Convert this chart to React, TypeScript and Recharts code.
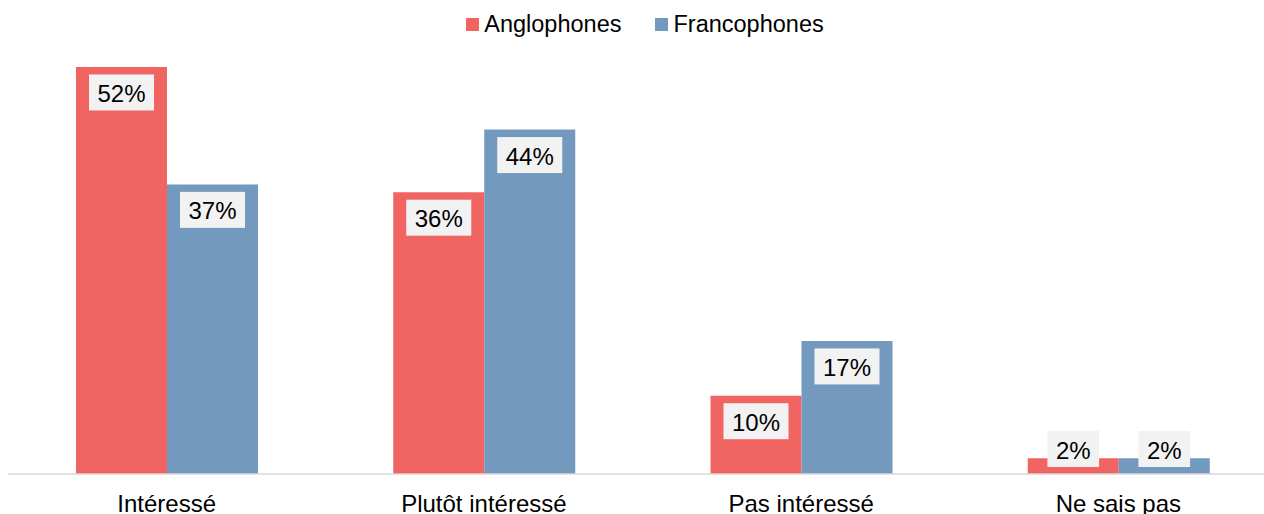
import React from "react";
import { BarChart, Bar, XAxis, YAxis, Legend, LabelList } from "recharts";

const categories = ["Intéressé", "Plutôt intéressé", "Pas intéressé", "Ne sais pas"];
const anglophones = [52, 36, 10, 2];
const francophones = [37, 44, 17, 2];
const seriesNames = ["Anglophones", "Francophones"];
const colors = ["#F06461", "#7399BF"];

const data = categories.map((c, i) => ({
  name: c,
  a: anglophones[i],
  f: francophones[i],
}));

const FONT = "'Liberation Sans', Arial, sans-serif";

const textWidth = (s: string) => {
  let w = 0;
  for (const ch of s) w += ch === "%" ? 0.889 : 0.556;
  return w * 24;
};

const ValueLabel = (props: any) => {
  const { x, y, width, height, value } = props;
  const txt = `${value}%`;
  const bw = textWidth(txt) + 17;
  const bh = 36;
  const base = y + height;
  const top = Math.min(y + 7.5, base - 7 - bh);
  const cx = x + width / 2;
  return (
    <g>
      <rect x={cx - bw / 2} y={top} width={bw} height={bh} fill="#F2F2F2" />
      <text x={cx} y={top + 27.6} textAnchor="middle" fontFamily={FONT} fontSize={24} fill="#000">
        {txt}
      </text>
    </g>
  );
};

const Tick = (props: any) => {
  const { x, y, payload } = props;
  return (
    <text x={x} y={y + 30} textAnchor="middle" fontFamily={FONT} fontSize={24} fill="#000">
      {payload.value}
    </text>
  );
};

const LegendContent = () => (
  <div
    style={{
      display: "flex",
      justifyContent: "center",
      alignItems: "center",
      height: 28,
      paddingLeft: 5,
      fontFamily: FONT,
      fontSize: 23.5,
      color: "#000",
    }}
  >
    {seriesNames.map((n, i) => (
      <div key={n} style={{ display: "flex", alignItems: "center", marginLeft: i ? 34 : 0 }}>
        <div style={{ width: 13, height: 13, background: colors[i], marginRight: 5 }} />
        <span>{n}</span>
      </div>
    ))}
  </div>
);

export default function App() {
  return (
    <div style={{ position: "fixed", left: 0, top: 0, width: 1264, height: 514, overflow: "hidden", background: "#fff" }}>
      <div style={{ position: "absolute", left: 8, top: 0 }}>
        <BarChart
          width={1270}
          height={514}
          data={data}
          margin={{ top: 10, right: 1, left: 0, bottom: 10 }}
          barGap={0}
          barSize={91}
        >
          <Legend verticalAlign="top" align="center" content={<LegendContent />} height={28} />
          <XAxis
            dataKey="name"
            axisLine={{ stroke: "#D9D9D9", strokeWidth: 1.5 }}
            tickLine={false}
            tick={<Tick />}
            height={30}
            interval={0}
          />
          <YAxis hide domain={[0, 55.7]} />
          <Bar dataKey="a" name={seriesNames[0]} fill={colors[0]} isAnimationActive={false}>
            <LabelList dataKey="a" content={<ValueLabel />} />
          </Bar>
          <Bar dataKey="f" name={seriesNames[1]} fill={colors[1]} isAnimationActive={false}>
            <LabelList dataKey="f" content={<ValueLabel />} />
          </Bar>
        </BarChart>
      </div>
    </div>
  );
}
